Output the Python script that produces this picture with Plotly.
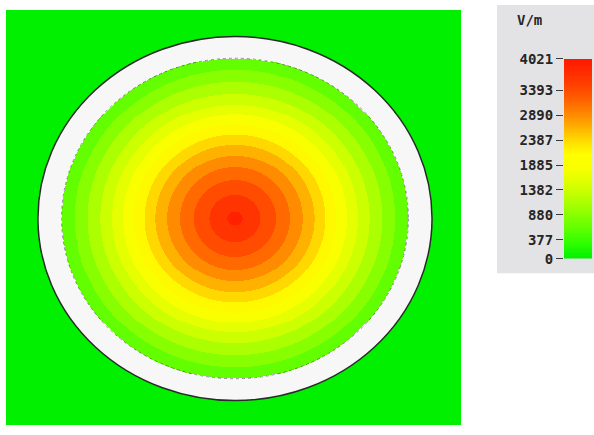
import numpy as np
import plotly.graph_objects as go

# Field-strength bands (V/m) of the circular cross-section, from the centre outwards.
band_width = 251.3
band_index = [15, 14, 13, 12, 11, 10, 9, 8, 7, 6, 5, 4, 3, 2]
# Outer radius of each band, as a fraction of the outer wall radius
band_outer_r = [0.040, 0.130, 0.210, 0.280, 0.345, 0.405, 0.460,
                0.515, 0.570, 0.625, 0.685, 0.750, 0.815, 0.880]
wall_inner_r = 0.88
wall_outer_r = 1.0
outside_value = 0.0

# Colour bar
cbar_max = 4021
tick_vals = [0, 377, 880, 1382, 1885, 2387, 2890, 3393, 4021]
tick_text = ["0", "377", "880", "1382", "1885", "2387", "2890", "3393", "4021"]

colorscale = [
    [0.00, "#00f000"], [0.08, "#30ff00"], [0.16, "#66ff00"],
    [0.26, "#a0ff00"], [0.36, "#d4ff00"], [0.45, "#f8ff00"],
    [0.52, "#ffff00"], [0.58, "#ffe000"], [0.64, "#ffbb00"],
    [0.71, "#ff9000"], [0.79, "#ff6400"], [0.88, "#ff3c00"],
    [1.00, "#ff1800"],
]

# Grid of the section view (data units: outer wall radius = 1)
x_range = [-1.162, 1.147]
y_range = [-1.134, 1.145]
nx, ny = 455, 424
xs = np.linspace(x_range[0], x_range[1], nx)
ys = np.linspace(y_range[0], y_range[1], ny)
X, Y = np.meshgrid(xs, ys)
R = np.hypot(X, Y)

band_values = np.array([(k + 0.5) * band_width for k in band_index])
idx = np.searchsorted(np.array(band_outer_r), R)
Z = np.where(idx < len(band_values), band_values[np.minimum(idx, len(band_values) - 1)], np.nan)
Z = np.where((R >= wall_inner_r) & (R < wall_outer_r), np.nan, Z)
Z = np.where(R >= wall_outer_r, outside_value, Z)

fig = go.Figure()
fig.add_trace(go.Heatmap(
    x=xs, y=ys, z=Z, zmin=0, zmax=cbar_max, colorscale=colorscale,
    showscale=False, hoverinfo="skip", xaxis="x", yaxis="y",
))

# Colour bar drawn as its own strip on a second pair of axes
bar_levels = np.linspace(0, cbar_max, 161)
fig.add_trace(go.Heatmap(
    x=[0], y=bar_levels, z=[[v] for v in bar_levels],
    zmin=0, zmax=cbar_max, colorscale=colorscale,
    showscale=False, hoverinfo="skip", xaxis="x2", yaxis="y2",
))

W, H = 594, 435
ml, mr, mt, mb = 6, 2, 9, 2
pw, ph = W - ml - mr, H - mt - mb

def px_x(p):
    return (p - ml) / pw

def px_y(p):
    return (H - mb - p) / ph

label_font = dict(family="DejaVu Sans Mono", size=14, color="#262626", weight="bold")

fig.update_layout(
    width=W, height=H,
    margin=dict(l=ml, r=mr, t=mt, b=mb, pad=0),
    paper_bgcolor="white", plot_bgcolor="#f7f7f7",
    showlegend=False,
    xaxis=dict(domain=[0, px_x(461)], range=x_range, visible=False, fixedrange=True),
    yaxis=dict(domain=[0, 1], range=y_range, visible=False, fixedrange=True),
    xaxis2=dict(domain=[px_x(564), px_x(592)], range=[-0.5, 0.5], visible=False,
                anchor="y2"),
    yaxis2=dict(domain=[px_y(263), px_y(59)], range=[0, cbar_max], anchor="x2",
                side="left", tickmode="array", tickvals=tick_vals, ticktext=tick_text,
                ticks="outside", ticklen=7, tickwidth=1.2, tickcolor="#3a3a3a",
                showgrid=False, zeroline=False, showline=False,
                tickfont=label_font),
    shapes=[
        # light grey legend panel
        dict(type="rect", xref="paper", yref="paper", layer="below",
             x0=px_x(497), x1=px_x(596), y0=px_y(278), y1=px_y(4),
             fillcolor="#e3e3e5", line=dict(width=0)),
        # wall outlines
        dict(type="circle", xref="x", yref="y",
             x0=-wall_outer_r, x1=wall_outer_r, y0=-wall_outer_r, y1=wall_outer_r,
             line=dict(color="#2a2a2a", width=1.5)),
        dict(type="circle", xref="x", yref="y",
             x0=-wall_inner_r, x1=wall_inner_r, y0=-wall_inner_r, y1=wall_inner_r,
             line=dict(color="#4a4a4a", width=1, dash="dot"), opacity=0.6),
    ],
    annotations=[
        dict(text="V/m", xref="paper", yref="paper", x=px_x(529), y=px_y(19),
             showarrow=False, xanchor="center", yanchor="middle", font=label_font),
    ],
)

fig.write_html("out.html")
